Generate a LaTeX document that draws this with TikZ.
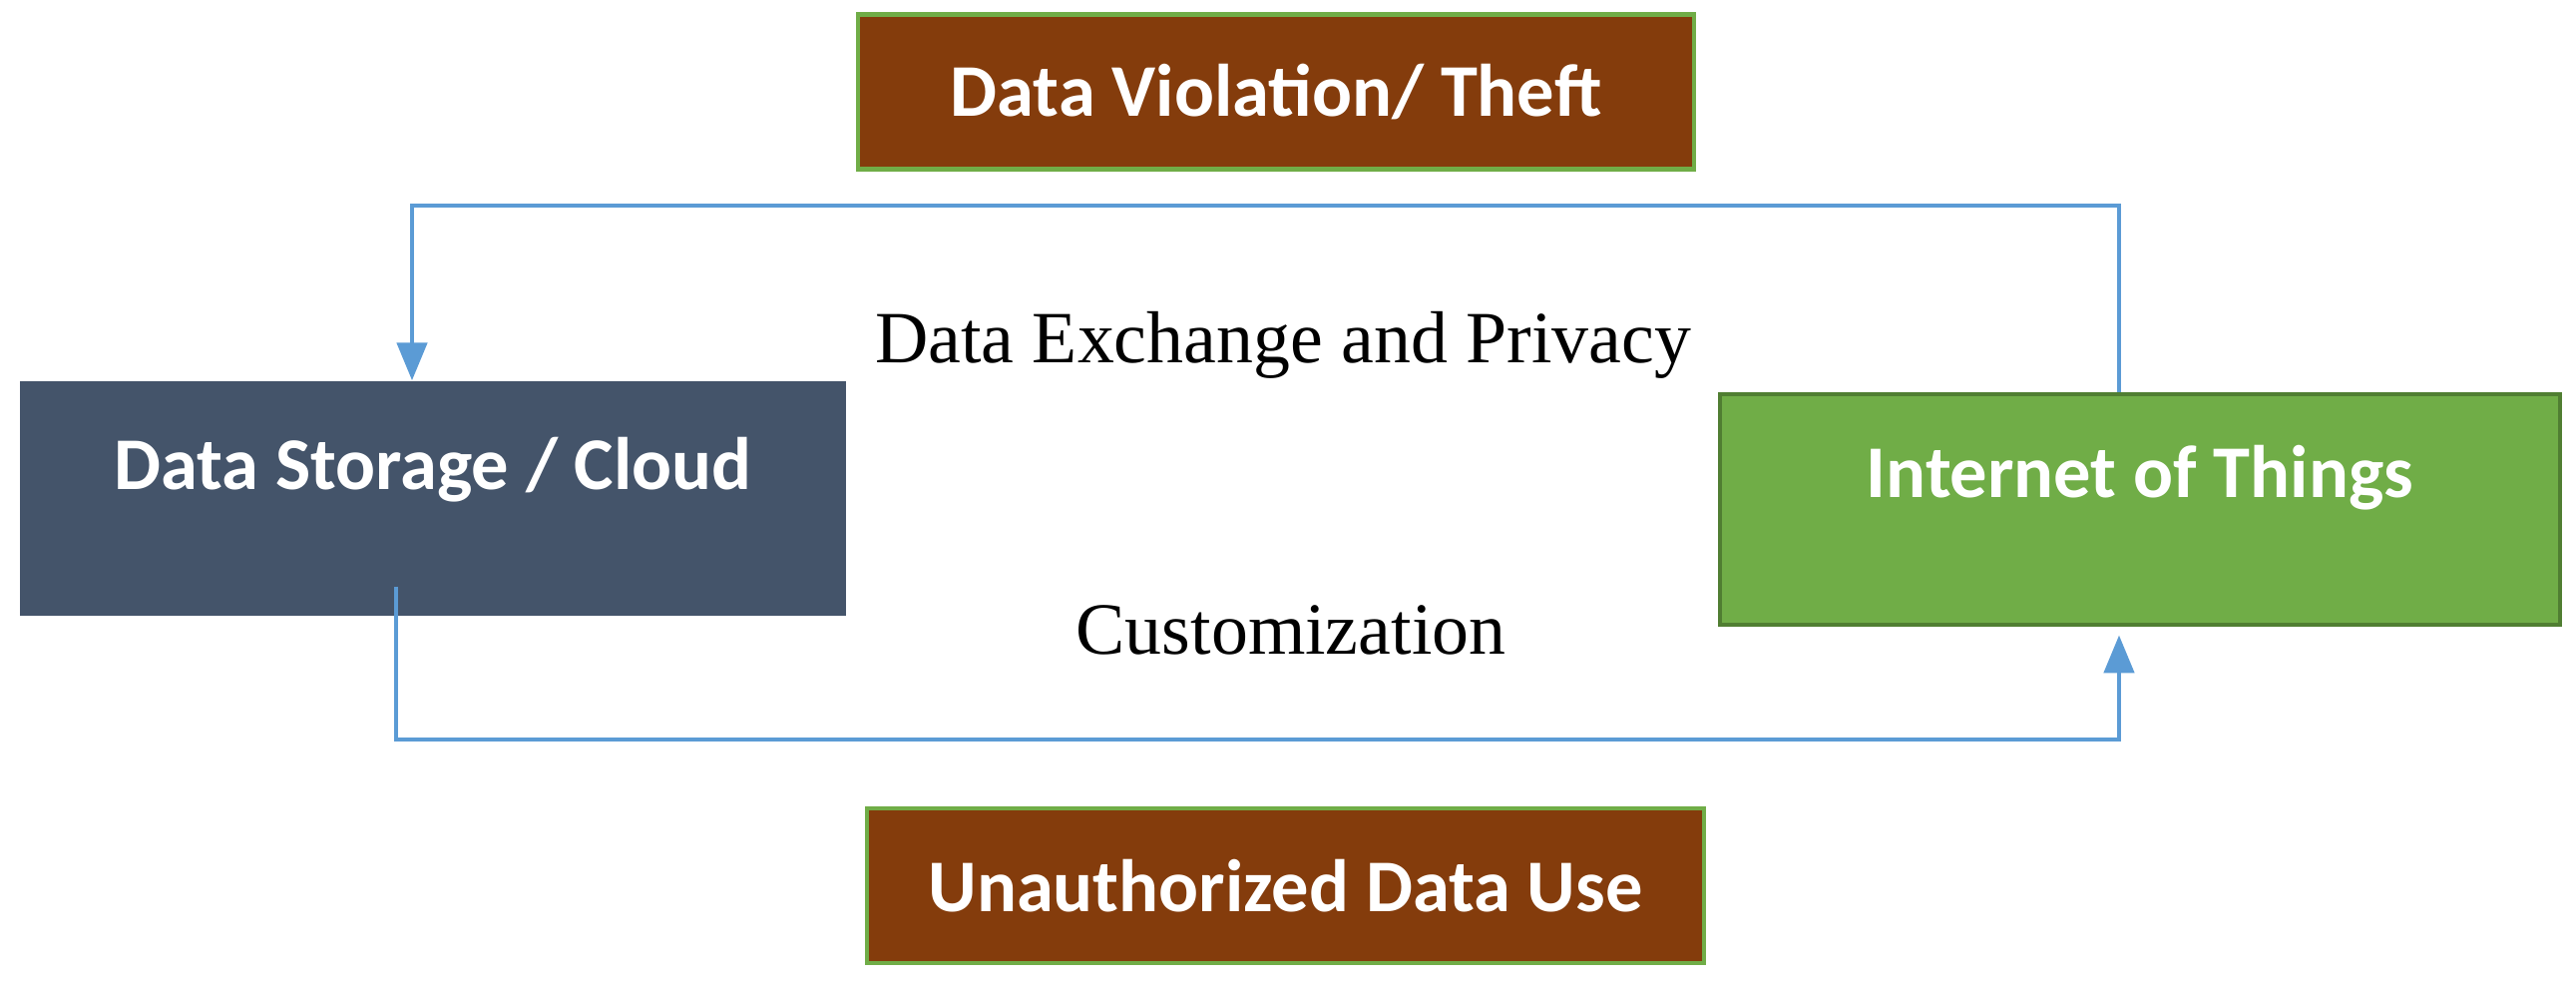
\documentclass[tikz,border=0pt]{standalone}
\usepackage{fontspec}
\setmainfont{Liberation Serif}
\newfontfamily\boxfont{Carlito}
\usetikzlibrary{arrows.meta,positioning}
\definecolor{theftbrown}{HTML}{843C0C}
\definecolor{cloudslate}{HTML}{44546A}
\definecolor{iotgreen}{HTML}{70AD47}
\definecolor{iotedge}{HTML}{507E32}
\definecolor{linkblue}{HTML}{5B9BD5}
\tikzset{threat/.style={rectangle, fill=theftbrown, draw=iotgreen, line width=1.4pt,
         text=white, font=\boxfont\bfseries\fontsize{21.2}{24}\selectfont,
         minimum width=#1, minimum height=1.55cm, inner sep=0pt},
         threat/.default={8.38cm},
         block/.style={rectangle, text=white, font=\boxfont\bfseries\fontsize{21.2}{24}\selectfont,
         text height=0.46cm, inner sep=0pt},
         link/.style={draw=linkblue, line width=1.4pt},
         lbl/.style={font=\fontsize{21}{24}\selectfont, inner sep=0pt}}
\begin{document}
\begin{tikzpicture}
  \useasboundingbox (0,0) rectangle (25.82,9.94);

  \node[threat] (theft) at (12.79,9.02) {Data Violation/ Theft};
  \node[threat=8.39cm] (misuse) at (12.885,1.065) {Unauthorized Data Use};
  \node[block, fill=cloudslate, minimum width=8.28cm, minimum height=2.35cm, text depth=0.64cm]
    (store) at (4.34,4.945) {Data Storage / Cloud};
  \node[block, fill=iotgreen, draw=iotedge, line width=1.4pt, minimum width=8.42cm,
    minimum height=2.31cm, text depth=0.7cm] (iot) at (21.45,4.835) {Internet of Things};

  \node[lbl] (exchange) at (12.86,6.48) {Data Exchange and Privacy};
  \node[lbl] (custom) at (12.94,3.63) {Customization};

  % loop between the cloud and the devices
  \coordinate (topL) at (4.13,7.88);
  \coordinate (topR) at (21.24,7.88);
  \coordinate (botL) at (3.97,2.53);
  \coordinate (botR) at (21.24,2.53);
  \draw[link, -{Triangle[width=0.3cm,length=0.38cm]}] (iot.north -| topR) -- (topR) -- (topL) -- (topL |- store.north);
  \draw[link, -{Triangle[width=0.3cm,length=0.38cm]}] ([yshift=0.3cm]botL |- store.south) -- (botL) -- (botR) -- ([yshift=-0.08cm]botR |- iot.south);
\end{tikzpicture}
\end{document}
